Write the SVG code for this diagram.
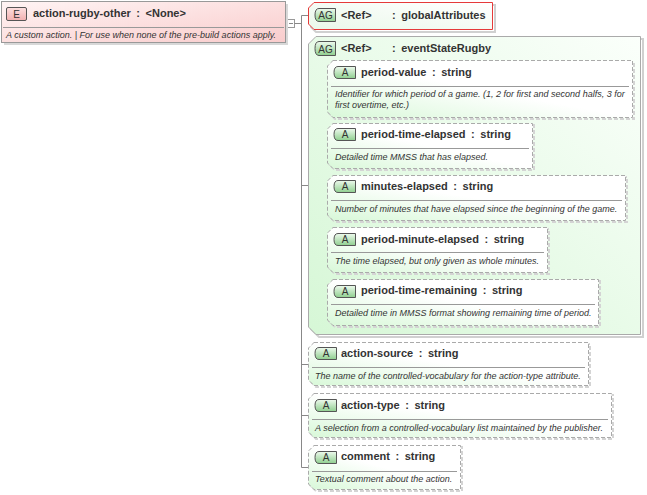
<svg xmlns="http://www.w3.org/2000/svg" width="647" height="495" viewBox="0 0 647 495">
<defs>
<linearGradient id="gElem" x1="0" y1="0" x2="1" y2="1">
<stop offset="0" stop-color="#fff4f4"/><stop offset="1" stop-color="#f9cccc"/>
</linearGradient>
<linearGradient id="gAttr" x1="1" y1="0" x2="0" y2="1">
<stop offset="0" stop-color="#ffffff"/><stop offset="0.5" stop-color="#ffffff"/><stop offset="1" stop-color="#d8f8d8"/>
</linearGradient>
<linearGradient id="gGroup" x1="1" y1="0" x2="0" y2="1">
<stop offset="0" stop-color="#fbfffb"/><stop offset="1" stop-color="#d6f7d6"/>
</linearGradient>
<linearGradient id="gRef" x1="1" y1="0" x2="0" y2="1">
<stop offset="0" stop-color="#ffffff"/><stop offset="1" stop-color="#eaf8ea"/>
</linearGradient>
<linearGradient id="gBadge" x1="0" y1="0" x2="0" y2="1">
<stop offset="0" stop-color="#eefaee"/><stop offset="1" stop-color="#8fcf8f"/>
</linearGradient>
<linearGradient id="gEBadge" x1="0" y1="0" x2="0" y2="1">
<stop offset="0" stop-color="#fde0e0"/><stop offset="1" stop-color="#f2b0b0"/>
</linearGradient>
</defs>
<style>
.title{font-family:"Liberation Sans",Arial,sans-serif;font-size:11px;font-weight:bold;fill:#333;word-spacing:2.5px}
.desc{font-family:"Liberation Sans",Arial,sans-serif;font-size:9px;font-style:italic;fill:#333}
.edesc{font-family:"Liberation Sans",Arial,sans-serif;font-size:9px;font-style:italic;fill:#333}
.badgeT{font-family:"Liberation Sans",Arial,sans-serif;font-size:10px;fill:#333;text-anchor:middle}
.attr{fill:url(#gAttr);stroke:#aaaaaa;stroke-dasharray:4,2}
.shadow{fill:none;stroke:#d0d0d0;stroke-width:2}
.dshadow{fill:none;stroke:#d4d4d4;stroke-width:2;stroke-dasharray:4,2}
.sep{stroke:#999;stroke-width:1}
.badge{fill:url(#gBadge);stroke:#555;stroke-width:1}
.conn{stroke:#888;stroke-width:1;fill:none}
</style>

<g id="connectors">
<rect x="287.5" y="19.5" width="7" height="8" fill="#fff" stroke="#999"/>
<line x1="289" y1="23.5" x2="293" y2="23.5" stroke="#888"/>
<path class="conn" d="M294.5,23.5 H301.5 M301.5,15.5 V467.5 M301.5,15.5 H308 M301.5,185.5 H320.5 M301.5,364.5 H308 M301.5,415.5 H308 M301.5,467.5 H308"/>
<path class="conn" d="M320.5,89.5 V302.5 M320.5,89.5 H327 M320.5,145.5 H327 M320.5,197.5 H327 M320.5,249.5 H327 M320.5,302.5 H327"/>
</g>

<g id="element">
<rect x="4" y="4" width="284" height="41" fill="#d8d8d8"/>
<rect x="1.5" y="1.5" width="284" height="41" fill="url(#gElem)" stroke="#999"/>
<rect x="6.5" y="7.5" width="20" height="13" rx="1.5" fill="url(#gEBadge)" stroke="#555"/>
<text class="badgeT" x="16.5" y="18">E</text>
<text class="title" x="33" y="17">action-rugby-other : &lt;None&gt;</text>
<line class="sep" x1="3" y1="27.5" x2="284" y2="27.5"/>
<text class="edesc" x="6" y="38">A custom action. | For use when none of the pre-build actions apply.</text>
</g>

<g id="globalAttributes">
<path class="shadow" d="M316,5 H495 V32 H316 L311,27 V10 Z"/>
<path d="M314,2.5 H492.5 V29.5 H314 L308.5,24 V8 Z" fill="url(#gRef)" stroke="#e53a3a"/>
<path class="badge" d="M319,8.5 H335.5 V21.5 H319 Q315,21.5 315,15 Q315,8.5 319,8.5 Z"/>
<text class="badgeT" x="325.5" y="19">AG</text>
<text class="title" x="341" y="19">&lt;Ref&gt;</text>
<text class="title" x="392" y="19">: globalAttributes</text>
</g>

<g id="eventStateRugby">
<path class="shadow" d="M319,39 H643 V337 H319 L311,329 V47 Z"/>
<path d="M316,36.5 H640.5 V334.5 H316 L308.5,327 V44 Z" fill="url(#gGroup)" stroke="#aaaaaa"/>
<path class="badge" d="M319,41.5 H335.5 V55.5 H319 Q315,55.5 315,48.5 Q315,41.5 319,41.5 Z"/>
<text class="badgeT" x="325.5" y="52.5">AG</text>
<text class="title" x="341" y="52">&lt;Ref&gt;</text>
<text class="title" x="392" y="52">: eventStateRugby</text>
</g>

<g id="period-value">
<path class="dshadow" d="M335,62 H634 V119 H335 L329,113 V68 Z"/>
<path class="attr" d="M333,60.5 H632.5 V117.5 H333 L327.5,112 V66 Z"/>
<path class="badge" d="M338,66.5 H355.5 V78.5 H338 Q334,78.5 334,72.5 Q334,66.5 338,66.5 Z"/>
<text class="badgeT" x="345" y="76">A</text>
<text class="title" x="361" y="76">period-value : string</text>
<line class="sep" x1="331" y1="86.5" x2="629" y2="86.5"/>
<text class="desc" x="335" y="97">Identifier for which period of a game. (1, 2 for first and second halfs, 3 for</text>
<text class="desc" x="335" y="108">first overtime, etc.)</text>
</g>

<g id="period-time-elapsed">
<path class="dshadow" d="M335,125 H534 V170 H335 L329,164 V131 Z"/>
<path class="attr" d="M333,123.5 H532.5 V168.5 H333 L327.5,163 V129 Z"/>
<path class="badge" d="M338,128.5 H355.5 V140.5 H338 Q334,140.5 334,134.5 Q334,128.5 338,128.5 Z"/>
<text class="badgeT" x="345" y="138">A</text>
<text class="title" x="361" y="138">period-time-elapsed : string</text>
<line class="sep" x1="331" y1="148.5" x2="529" y2="148.5"/>
<text class="desc" x="335" y="160">Detailed time MMSS that has elapsed.</text>
</g>

<g id="minutes-elapsed">
<path class="dshadow" d="M335,177 H627 V222 H335 L329,216 V183 Z"/>
<path class="attr" d="M333,175.5 H625.5 V220.5 H333 L327.5,215 V181 Z"/>
<path class="badge" d="M338,180.5 H355.5 V192.5 H338 Q334,192.5 334,186.5 Q334,180.5 338,180.5 Z"/>
<text class="badgeT" x="345" y="190">A</text>
<text class="title" x="361" y="190">minutes-elapsed : string</text>
<line class="sep" x1="331" y1="200.5" x2="622" y2="200.5"/>
<text class="desc" x="335" y="212">Number of minutes that have elapsed since the beginning of the game.</text>
</g>

<g id="period-minute-elapsed">
<path class="dshadow" d="M335,229 H549 V274 H335 L329,268 V235 Z"/>
<path class="attr" d="M333,227.5 H547.5 V272.5 H333 L327.5,267 V233 Z"/>
<path class="badge" d="M338,233.5 H355.5 V245.5 H338 Q334,245.5 334,239.5 Q334,233.5 338,233.5 Z"/>
<text class="badgeT" x="345" y="243">A</text>
<text class="title" x="361" y="243">period-minute-elapsed : string</text>
<line class="sep" x1="331" y1="252.5" x2="544" y2="252.5"/>
<text class="desc" x="335" y="264">The time elapsed, but only given as whole minutes.</text>
</g>

<g id="period-time-remaining">
<path class="dshadow" d="M335,281 H600 V327 H335 L329,321 V287 Z"/>
<path class="attr" d="M333,279.5 H598.5 V325.5 H333 L327.5,320 V285 Z"/>
<path class="badge" d="M338,285.5 H355.5 V297.5 H338 Q334,297.5 334,291.5 Q334,285.5 338,285.5 Z"/>
<text class="badgeT" x="345" y="295">A</text>
<text class="title" x="361" y="294">period-time-remaining : string</text>
<line class="sep" x1="331" y1="304.5" x2="595" y2="304.5"/>
<text class="desc" x="335" y="316">Detailed time in MMSS format showing remaining time of period.</text>
</g>

<g id="action-source">
<path class="dshadow" d="M316,344 H590 V387 H316 L310,381 V350 Z"/>
<path class="attr" d="M314,342.5 H588.5 V385.5 H314 L308.5,380 V348 Z"/>
<path class="badge" d="M319,347.5 H336.5 V359.5 H319 Q315,359.5 315,353.5 Q315,347.5 319,347.5 Z"/>
<text class="badgeT" x="326" y="357">A</text>
<text class="title" x="341" y="357">action-source : string</text>
<line class="sep" x1="312" y1="367.5" x2="585" y2="367.5"/>
<text class="desc" x="315" y="379">The name of the controlled-vocabulary for the action-type attribute.</text>
</g>

<g id="action-type">
<path class="dshadow" d="M316,395 H613 V439 H316 L310,433 V401 Z"/>
<path class="attr" d="M314,393.5 H611.5 V437.5 H314 L308.5,432 V399 Z"/>
<path class="badge" d="M319,399.5 H336.5 V411.5 H319 Q315,411.5 315,405.5 Q315,399.5 319,399.5 Z"/>
<text class="badgeT" x="326" y="409">A</text>
<text class="title" x="341" y="409">action-type : string</text>
<line class="sep" x1="312" y1="419.5" x2="608" y2="419.5"/>
<text class="desc" x="315" y="431">A selection from a controlled-vocabulary list maintained by the publisher.</text>
</g>

<g id="comment">
<path class="dshadow" d="M316,447 H462 V491 H316 L310,485 V453 Z"/>
<path class="attr" d="M314,445.5 H460.5 V489.5 H314 L308.5,484 V451 Z"/>
<path class="badge" d="M319,451.5 H336.5 V463.5 H319 Q315,463.5 315,457.5 Q315,451.5 319,451.5 Z"/>
<text class="badgeT" x="326" y="461">A</text>
<text class="title" x="341" y="460">comment : string</text>
<line class="sep" x1="312" y1="471.5" x2="457" y2="471.5"/>
<text class="desc" x="315" y="482">Textual comment about the action.</text>
</g>
</svg>
